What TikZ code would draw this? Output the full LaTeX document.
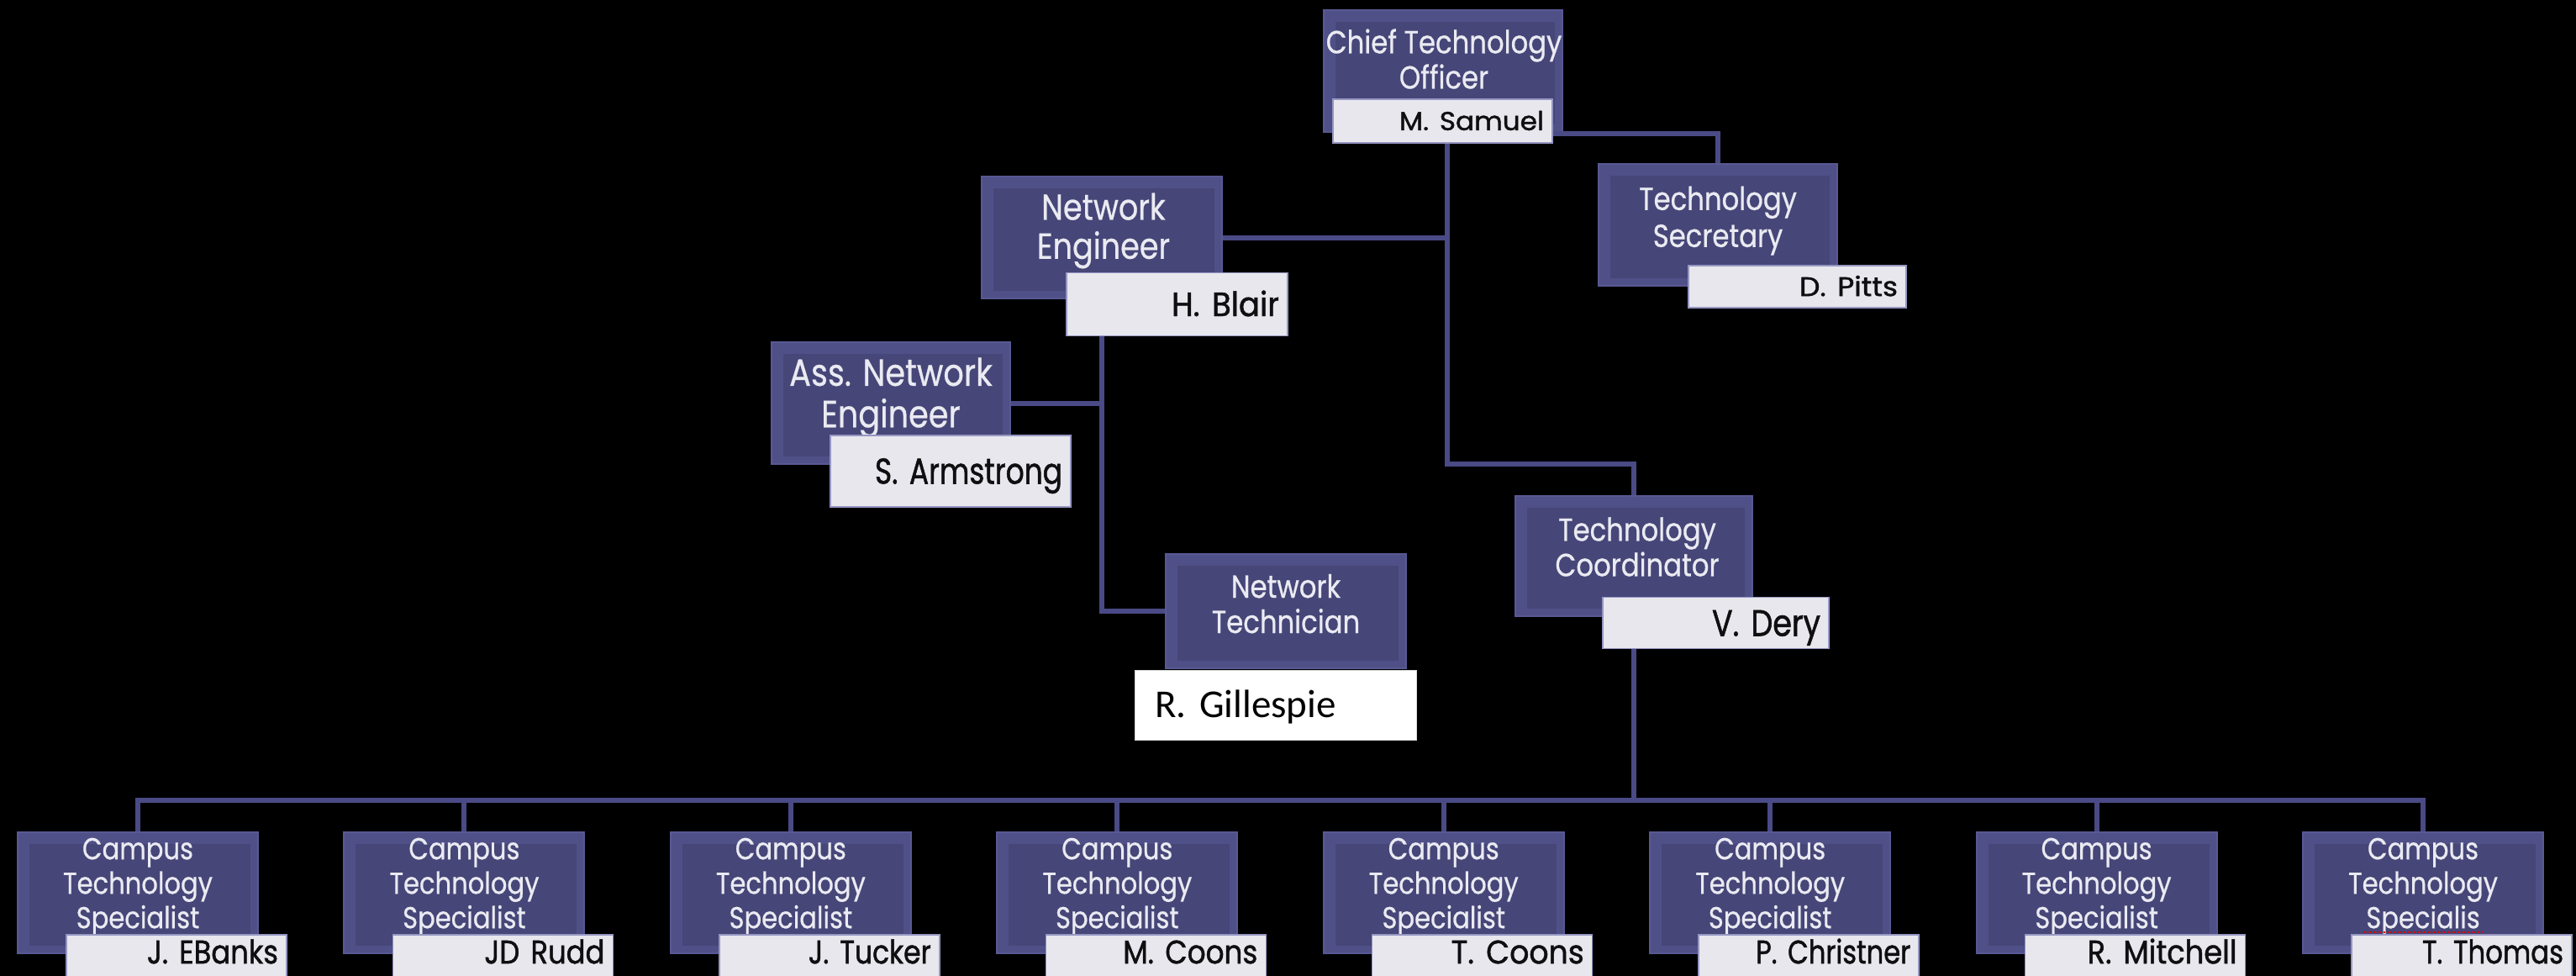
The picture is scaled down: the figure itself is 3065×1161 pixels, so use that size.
\documentclass[tikz,border=0pt]{standalone}
\usepackage{graphicx}
\usepackage{fontspec}
\newfontfamily\gfont[FakeStretch=0.85,FakeBold=0.6]{Poppins}
\newfontfamily\nfont[FakeStretch=0.85,FakeBold=1.2]{Poppins}
\newfontfamily\cfont{Carlito}
\newcommand\myfs[2]{\fontsize{#1}{#2}\selectfont}
\newcommand\fitname[2]{\resizebox{#1pt}{\height}{#2}}
\definecolor{boxrim}{RGB}{80,80,136}
\definecolor{boxface}{RGB}{70,70,120}
\definecolor{boxedge}{RGB}{88,88,148}
\definecolor{conncol}{RGB}{74,74,134}
\definecolor{barfill}{RGB}{231,231,237}
\definecolor{baredge}{RGB}{150,150,195}
\definecolor{ttlcol}{RGB}{234,234,242}
\definecolor{namecol}{RGB}{15,15,18}
\begin{document}
\begin{tikzpicture}[x=1pt,y=-1pt,
 orgbox/.style={draw=boxedge, line width=2pt, fill=boxrim, inner sep=0pt,
   path picture={\fill[boxface] ([shift={(14pt,-14pt)}]path picture bounding box.north west) rectangle ([shift={(-9pt,9pt)}]path picture bounding box.south east);}},
 titletext/.style={text=ttlcol, align=center, inner sep=0pt},
 namebar/.style={fill=barfill, draw=baredge, line width=1.5pt, inner xsep=10pt, inner ysep=0pt, align=right, text=namecol, text depth=0pt},
 whitebar/.style={fill=white, draw=black!15, line width=1pt, inner xsep=24pt, inner ysep=0pt, align=left, text=black, text depth=0pt},
 conn/.style={draw=conncol, line width=6pt}
]
\fill[black] (0,0) rectangle (3065,1161);
\useasboundingbox (0,0) rectangle (3065,1161);

% Chief Technology Officer
\node[orgbox, minimum width=284pt, minimum height=145pt] (cto) at (1717,84.5) {};
\node[titletext, font=\gfont\myfs{38}{42}] (ctoT) at (1718,76) {\strut Chief Technology\\Officer\strut};
\node[namebar, minimum height=52pt, text width=241pt, text height=21.7pt, font=\nfont\myfs{31}{36}] (ctoN) at (1716.5,144) {\fitname{172}{M. Samuel}};

% Technology Secretary
\node[orgbox, minimum width=284pt, minimum height=145pt] (sec) at (2044,267.5) {};
\node[titletext, font=\gfont\myfs{38}{44}] (secT) at (2044,263) {\strut Technology\\Secretary\strut};
\node[namebar, minimum height=50pt, text width=239pt, text height=22.4pt, font=\nfont\myfs{32}{36}] (secN) at (2138.5,341) {\fitname{117}{D. Pitts}};

% Network Engineer
\node[orgbox, minimum width=286pt, minimum height=145pt] (ne) at (1311,282.5) {};
\node[titletext, font=\gfont\myfs{43}{42}] (neT) at (1313,275) {\strut Network\\Engineer\strut};
\node[namebar, minimum height=75pt, text width=243pt, text height=28pt, font=\nfont\myfs{40}{46}] (neN) at (1400.5,362) {\fitname{128}{H. Blair}};

% Ass. Network Engineer
\node[orgbox, minimum width=284pt, minimum height=145pt] (ane) at (1060,479.5) {};
\node[titletext, font=\gfont\myfs{45}{47}] (aneT) at (1060,474) {\strut Ass. Network\\Engineer\strut};
\node[namebar, minimum height=85pt, text width=266pt, text height=30pt, font=\nfont\myfs{43}{50}] (aneN) at (1131,560.5) {\fitname{223}{S. Armstrong}};

% Network Technician
\node[orgbox, minimum width=286pt, minimum height=136pt] (nt) at (1530,727) {};
\node[titletext, font=\gfont\myfs{38}{40}] (ntT) at (1530,724) {\strut Network\\Technician\strut};
\node[whitebar, minimum height=83pt, text width=287pt, text height=30pt, font=\cfont\myfs{47}{56}] (ntN) at (1517.5,838.5) {R. Gillespie};

% Technology Coordinator
\node[orgbox, minimum width=282pt, minimum height=143pt] (tc) at (1944,661.5) {};
\node[titletext, font=\gfont\myfs{38}{42}] (tcT) at (1948,656) {\strut Technology\\Coordinator\strut};
\node[namebar, minimum height=61pt, text width=249pt, text height=31pt, font=\nfont\myfs{44}{50}] (tcN) at (2041.5,741) {\fitname{129}{V. Dery}};

% Campus Technology Specialists
\foreach \i/\pname/\sp/\w in {0/J. EBanks/Specialist/156,1/JD Rudd/Specialist/143,2/J. Tucker/Specialist/146,3/M. Coons/Specialist/160,4/T. Coons/Specialist/158,5/P. Christner/Specialist/184,6/R. Mitchell/Specialist/178,7/T. Thomas/Specialis/168}{
  \pgfmathsetmacro\L{21+388.43*\i}
  \node[orgbox, minimum width=286pt, minimum height=144pt] (cs\i) at (\L+143,1062) {};
  \node[titletext, font=\gfont\myfs{36}{41}] (cst\i) at (\L+143,1055) {\strut Campus\\Technology\\\sp\strut};
  \node[namebar, minimum height=63pt, text width=242pt, text height=27.3pt, text depth=22pt, font=\nfont\myfs{39}{44}] (csn\i) at (\L+189,1143.5) {\fitname{\w}{\pname}};
}
\draw[red!85!black, dotted, line width=2pt] (2812,1109) -- (2955,1109);

% connectors
\coordinate (trunk) at (1722,0);
\coordinate (tcturn) at (1944,552);
\coordinate (bus) at (0,952);
\draw[conn] (ctoN.south -| trunk) |- (ne.east);
\draw[conn] (ctoN.south -| trunk) |- (tcturn) -- (tc.north);
\draw[conn] ([yshift=-15pt]ctoN.east) -| (sec.north);
\draw[conn] (ne.south |- neN.south) |- (nt.west);
\draw[conn] (ane.east) -- (ane.east -| ne.south);
\draw[conn] (tc.south |- tcN.south) -- (tc.south |- bus);
\draw[conn] (cs0.north) |- (cs7.north |- bus) -- (cs7.north);
\foreach \i in {1,...,6}{\draw[conn] (cs\i.north) -- (cs\i.north |- bus);}
\end{tikzpicture}
\end{document}
